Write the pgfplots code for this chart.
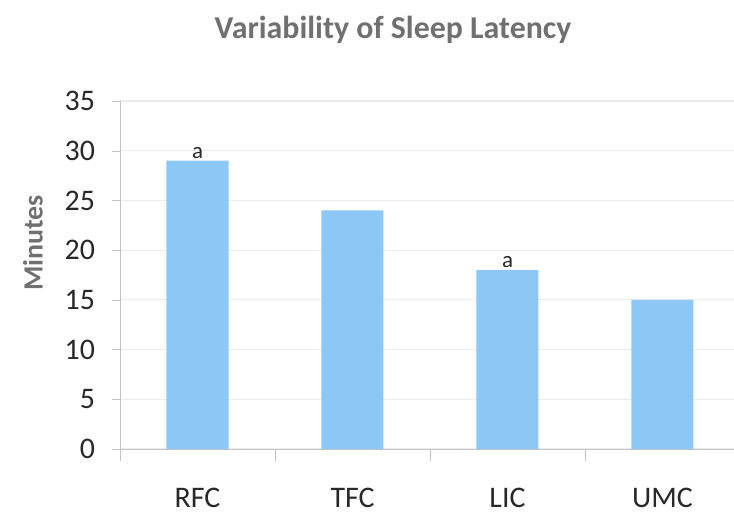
\documentclass[border=0pt]{standalone}
\usepackage{fontspec}
\setmainfont{Carlito}
\usepackage{pgfplots}
\pgfplotsset{compat=1.18}
\definecolor{barblue}{RGB}{140,199,246}
\definecolor{titlegray}{RGB}{112,112,112}
\definecolor{axgray}{RGB}{195,195,195}
\definecolor{labdark}{RGB}{40,40,40}

\begin{document}
\begin{tikzpicture}
\useasboundingbox (-60bp,-31.5bp) rectangle (307bp,224.5bp);
\begin{axis}[
  at={(0,0)}, anchor=south west,
  scale only axis, width=310bp, height=174bp,
  xmin=-0.5, xmax=3.5, ymin=0, ymax=35,
  ytick={0,5,...,35},
  xtick={0,1,2,3},
  xticklabels={RFC,TFC,LIC,UMC},
  extra x ticks={-0.5,0.5,1.5,2.5,3.5},
  extra x tick labels={},
  extra x tick style={major tick length=6bp, tick align=outside, grid=none,
    x tick style={draw=axgray}},
  axis x line*=bottom, axis y line*=left,
  axis line style={axgray},
  ymajorgrids, grid style={gray!14, line width=0.6pt},
  xmajorgrids=false,
  major tick length=4bp, tick align=outside,
  x tick style={draw=none},
  y tick style={draw=axgray},
  /pgf/number format/assume math mode=true,
  tick label style={font=\fontsize{15}{17}\selectfont, text=labdark},
  yticklabel style={xshift=-5bp},
  xticklabel style={yshift=-12bp},
]
\addplot[ybar, bar width=31bp, fill=barblue, draw=none]
  coordinates {(0,29) (1,24) (2,18) (3,15)};
\node[anchor=south, inner sep=1bp, font=\fontsize{11.5}{13}\selectfont, text=labdark]
  at (axis cs:0,29) {a};
\node[anchor=south, inner sep=1bp, font=\fontsize{11.5}{13}\selectfont, text=labdark]
  at (axis cs:2,18) {a};
\end{axis}
\node[font=\bfseries\fontsize{16}{19}\selectfont, text=titlegray] at (136.5bp,209.5bp)
  {Variability of Sleep Latency};
\node[rotate=90, font=\bfseries\fontsize{14}{16}\selectfont, text=titlegray] at (-43.5bp,103bp)
  {Minutes};
\end{tikzpicture}
\end{document}
